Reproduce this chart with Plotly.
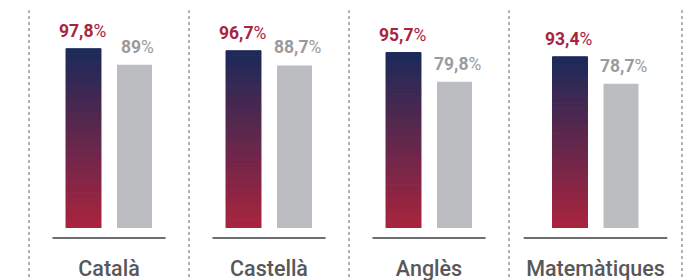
import plotly.graph_objects as go
from plotly.subplots import make_subplots

categories = ["Català", "Castellà", "Anglès", "Matemàtiques"]
values_a = [97.8, 96.7, 95.7, 93.4]
values_b = [89.0, 88.7, 79.8, 78.7]
labels_a = ["97,8", "96,7", "95,7", "93,4"]
labels_b = ["89", "88,7", "79,8", "78,7"]

panel_px = [160, 160, 160, 173]
top_color = (27, 42, 90)
bottom_color = (170, 36, 62)
grey_bar = "#BCBDC0"
red_text = "#A8243E"
grey_text = "#9B9B9D"
N = 40
label_font = "Roboto"

fig = make_subplots(rows=1, cols=4, column_widths=panel_px, horizontal_spacing=0)

def mix(t):
    c = [round(bottom_color[k] + (top_color[k] - bottom_color[k]) * t) for k in range(3)]
    return f"rgb({c[0]},{c[1]},{c[2]})"

for p, cat in enumerate(categories):
    col = p + 1
    va = values_a[p]
    for i in range(N):
        colr = mix((i + 0.5) / N)
        fig.add_trace(go.Bar(
            x=[cat], y=[va / N], base=[va * i / N],
            offsetgroup="a", marker=dict(color=colr, line=dict(width=1, color=colr)),
            showlegend=False, hoverinfo="skip"), row=1, col=col)
    fig.add_trace(go.Bar(
        x=[cat], y=[values_b[p]], offsetgroup="b",
        marker=dict(color=grey_bar, line=dict(width=0)),
        showlegend=False, hoverinfo="skip"), row=1, col=col)

    half = panel_px[p] / 320
    xa = "xaxis" if col == 1 else f"xaxis{col}"
    ya = "yaxis" if col == 1 else f"yaxis{col}"
    fig.layout[xa].update(range=[-half, half], showgrid=False, zeroline=False, showline=False,
                          ticks="", ticklabelstandoff=25, automargin=False,
                          tickfont=dict(family="Roboto", size=21.5, color="#58585A", weight=500))
    fig.layout[ya].update(range=[0, 120], visible=False, automargin=False)

    xr = "x" if col == 1 else f"x{col}"
    yr = "y" if col == 1 else f"y{col}"
    fig.add_annotation(x=cat, y=va, xref=xr, yref=yr, xshift=-27, yshift=6,
                       yanchor="bottom", showarrow=False,
                       text=f"<b>{labels_a[p]}</b>%",
                       font=dict(family=label_font, size=17.5, color=red_text))
    fig.add_annotation(x=cat, y=values_b[p], xref=xr, yref=yr, xshift=28, yshift=6,
                       yanchor="bottom", showarrow=False,
                       text=f"<b>{labels_b[p]}</b>%",
                       font=dict(family=label_font, size=17.5, color=grey_text))

    inset = 0.147 if p < 3 else 0.085
    fig.add_shape(type="line", xref=f"{xr} domain", yref="paper",
                  x0=inset, x1=1 - inset, y0=-0.045, y1=-0.045,
                  line=dict(color="#6E6E70", width=2))

# dotted separators
bounds = [0]
for w in panel_px:
    bounds.append(bounds[-1] + w)
total = bounds[-1]
for b in bounds:
    fig.add_shape(type="line", xref="paper", yref="paper",
                  x0=b / total, x1=b / total, y0=-0.25, y1=0.99,
                  line=dict(color="#666666", width=1, dash="dot"))

fig.update_layout(
    width=696, height=280,
    margin=dict(l=29, r=14, t=8, b=52, autoexpand=False),
    barmode="group", bargap=0.3625, bargroupgap=0.314,
    paper_bgcolor="white", plot_bgcolor="white",
    showlegend=False,
)

fig.write_html("out.html", config={"displayModeBar": False},
               post_script="document.body.style.margin='0';document.body.style.overflow='hidden';")
